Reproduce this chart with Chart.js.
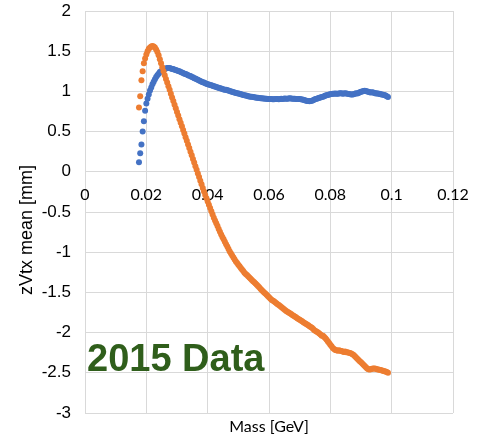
<!DOCTYPE html>
<html>
<head>
<meta charset="utf-8">
<title>zVtx mean vs Mass</title>
<script src="https://cdn.jsdelivr.net/npm/chart.js@4.4.1/dist/chart.umd.min.js"></script>
<style>
  html, body { margin: 0; padding: 0; background: #fff; }
  #chart { display: block; }
</style>
</head>
<body>
<canvas id="chart" width="477" height="436"></canvas>
<script>
// mass bins [GeV]
const mass = [
  0.0176, 0.0180, 0.0184, 0.0188, 0.0192, 0.0196, 0.0200, 0.0204, 0.0208, 0.0212,
  0.0216, 0.0220, 0.0224, 0.0228, 0.0232, 0.0236, 0.0240, 0.0244, 0.0248, 0.0252,
  0.0256, 0.0260, 0.0264, 0.0268, 0.0272, 0.0276, 0.0280, 0.0284, 0.0288, 0.0292,
  0.0296, 0.0300, 0.0304, 0.0308, 0.0312, 0.0316, 0.0320, 0.0324, 0.0328, 0.0332,
  0.0336, 0.0340, 0.0344, 0.0348, 0.0352, 0.0356, 0.0360, 0.0364, 0.0368, 0.0372,
  0.0376, 0.0380, 0.0384, 0.0388, 0.0392, 0.0396, 0.0400, 0.0404, 0.0408, 0.0412,
  0.0416, 0.0420, 0.0424, 0.0428, 0.0432, 0.0436, 0.0440, 0.0444, 0.0448, 0.0452,
  0.0456, 0.0460, 0.0464, 0.0468, 0.0472, 0.0476, 0.0480, 0.0484, 0.0488, 0.0492,
  0.0496, 0.0500, 0.0504, 0.0508, 0.0512, 0.0516, 0.0520, 0.0524, 0.0528, 0.0532,
  0.0536, 0.0540, 0.0544, 0.0548, 0.0552, 0.0556, 0.0560, 0.0564, 0.0568, 0.0572,
  0.0576, 0.0580, 0.0584, 0.0588, 0.0592, 0.0596, 0.0600, 0.0604, 0.0608, 0.0612,
  0.0616, 0.0620, 0.0624, 0.0628, 0.0632, 0.0636, 0.0640, 0.0644, 0.0648, 0.0652,
  0.0656, 0.0660, 0.0664, 0.0668, 0.0672, 0.0676, 0.0680, 0.0684, 0.0688, 0.0692,
  0.0696, 0.0700, 0.0704, 0.0708, 0.0712, 0.0716, 0.0720, 0.0724, 0.0728, 0.0732,
  0.0736, 0.0740, 0.0744, 0.0748, 0.0752, 0.0756, 0.0760, 0.0764, 0.0768, 0.0772,
  0.0776, 0.0780, 0.0784, 0.0788, 0.0792, 0.0796, 0.0800, 0.0804, 0.0808, 0.0812,
  0.0816, 0.0820, 0.0824, 0.0828, 0.0832, 0.0836, 0.0840, 0.0844, 0.0848, 0.0852,
  0.0856, 0.0860, 0.0864, 0.0868, 0.0872, 0.0876, 0.0880, 0.0884, 0.0888, 0.0892,
  0.0896, 0.0900, 0.0904, 0.0908, 0.0912, 0.0916, 0.0920, 0.0924, 0.0928, 0.0932,
  0.0936, 0.0940, 0.0944, 0.0948, 0.0952, 0.0956, 0.0960, 0.0964, 0.0968, 0.0972,
  0.0976, 0.0980, 0.0984, 0.0988
];

// zVtx mean [mm], blue series
const zMeanBlue = [
  0.12, 0.23, 0.34, 0.50, 0.63, 0.76, 0.85, 0.91, 0.96, 1.01,
  1.05, 1.09, 1.12, 1.15, 1.18, 1.20, 1.22, 1.24, 1.25, 1.26,
  1.27, 1.28, 1.285, 1.29, 1.29, 1.29, 1.285, 1.28, 1.28, 1.27,
  1.265, 1.26, 1.255, 1.25, 1.24, 1.235, 1.23, 1.22, 1.215, 1.21,
  1.20, 1.195, 1.19, 1.18, 1.175, 1.165, 1.16, 1.15, 1.145, 1.135,
  1.13, 1.12, 1.115, 1.11, 1.10, 1.095, 1.09, 1.085, 1.08, 1.075,
  1.07, 1.065, 1.06, 1.055, 1.05, 1.045, 1.04, 1.035, 1.03, 1.025,
  1.02, 1.02, 1.015, 1.01, 1.005, 1.00, 0.995, 0.99, 0.985, 0.98,
  0.978, 0.975, 0.97, 0.965, 0.96, 0.955, 0.952, 0.948, 0.945, 0.94,
  0.937, 0.935, 0.932, 0.93, 0.928, 0.925, 0.922, 0.92, 0.918, 0.916,
  0.915, 0.913, 0.912, 0.91, 0.908, 0.906, 0.905, 0.904, 0.904, 0.903,
  0.902, 0.904, 0.906, 0.905, 0.903, 0.906, 0.908, 0.905, 0.91, 0.912,
  0.91, 0.908, 0.912, 0.915, 0.912, 0.909, 0.908, 0.91, 0.906, 0.904,
  0.905, 0.906, 0.902, 0.90, 0.895, 0.89, 0.886, 0.882, 0.88, 0.878,
  0.88, 0.885, 0.89, 0.898, 0.905, 0.91, 0.915, 0.92, 0.925, 0.93,
  0.935, 0.94, 0.948, 0.952, 0.955, 0.96, 0.965, 0.968, 0.97, 0.972,
  0.975, 0.972, 0.97, 0.975, 0.978, 0.976, 0.972, 0.975, 0.978, 0.975,
  0.972, 0.968, 0.965, 0.962, 0.96, 0.965, 0.972, 0.978, 0.975, 0.98,
  0.988, 0.995, 1.00, 1.005, 1.008, 1.005, 1.00, 0.995, 0.99, 0.985,
  0.99, 0.985, 0.98, 0.975, 0.978, 0.972, 0.97, 0.965, 0.96, 0.958,
  0.955, 0.948, 0.94, 0.93
];

// zVtx mean [mm], orange series
const zMeanOrange = [
  0.80, 0.94, 1.14, 1.25, 1.35, 1.41, 1.46, 1.50, 1.53, 1.545,
  1.56, 1.565, 1.56, 1.545, 1.52, 1.49, 1.45, 1.40, 1.35, 1.30,
  1.25, 1.20, 1.155, 1.11, 1.065, 1.02, 0.97, 0.925, 0.88, 0.835,
  0.79, 0.745, 0.70, 0.655, 0.61, 0.565, 0.52, 0.475, 0.43, 0.385,
  0.34, 0.295, 0.25, 0.205, 0.16, 0.115, 0.07, 0.025, -0.02, -0.065,
  -0.11, -0.155, -0.20, -0.245, -0.29, -0.33, -0.37, -0.41, -0.45, -0.49,
  -0.53, -0.57, -0.605, -0.64, -0.675, -0.71, -0.745, -0.78, -0.81, -0.84,
  -0.87, -0.90, -0.93, -0.96, -0.99, -1.015, -1.04, -1.065, -1.09, -1.115,
  -1.135, -1.155, -1.175, -1.195, -1.215, -1.235, -1.255, -1.27, -1.285, -1.30,
  -1.315, -1.33, -1.345, -1.36, -1.375, -1.39, -1.405, -1.42, -1.435, -1.455,
  -1.47, -1.485, -1.50, -1.515, -1.53, -1.545, -1.56, -1.575, -1.59, -1.60,
  -1.61, -1.622, -1.634, -1.646, -1.658, -1.67, -1.682, -1.694, -1.706, -1.718,
  -1.73, -1.74, -1.75, -1.76, -1.77, -1.78, -1.79, -1.80, -1.81, -1.82,
  -1.83, -1.84, -1.85, -1.86, -1.87, -1.88, -1.89, -1.90, -1.91, -1.92,
  -1.93, -1.94, -1.955, -1.97, -1.98, -1.99, -2.00, -2.01, -2.025, -2.04,
  -2.04, -2.055, -2.07, -2.09, -2.11, -2.13, -2.15, -2.17, -2.19, -2.205,
  -2.215, -2.22, -2.225, -2.22, -2.225, -2.23, -2.235, -2.24, -2.235, -2.245,
  -2.245, -2.25, -2.255, -2.26, -2.27, -2.28, -2.295, -2.31, -2.325, -2.34,
  -2.355, -2.37, -2.385, -2.40, -2.415, -2.43, -2.445, -2.455, -2.46, -2.455,
  -2.45, -2.445, -2.445, -2.45, -2.455, -2.46, -2.462, -2.465, -2.47, -2.475,
  -2.48, -2.485, -2.49, -2.50
];

// axis ranges and tick steps
const xRange = [0, 0.12];
const xStep = 0.02;
const yRange = [-3, 2];
const yStep = 0.5;

const BLUE = '#4472C4';
const ORANGE = '#ED7D31';
const GRID = '#D9D9D9';

const toPoints = (ys) => mass.map((m, i) => ({ x: m, y: ys[i] }));
const fmt = (v) => String(Math.round(v * 100) / 100);

// tick labels may hang over the plot edges, don't let them shrink it
const noPadding = (scale) => {
  scale.paddingTop = 0;
  scale.paddingBottom = 0;
  scale.paddingLeft = 0;
  scale.paddingRight = 0;
};

// big green label inside the plot, plus the y axis title
const overlayText = {
  id: 'overlayText',
  afterDatasetsDraw(chart) {
    const { ctx } = chart;
    ctx.save();
    ctx.font = 'bold 38px "Liberation Sans", Arial, sans-serif';
    ctx.fillStyle = '#2F5E1B';
    ctx.textBaseline = 'alphabetic';
    ctx.textAlign = 'left';
    ctx.fillText('2015 Data', 87, 371);

    ctx.translate(27, 230);
    ctx.rotate(-Math.PI / 2);
    ctx.font = '18px "Liberation Sans", Arial, sans-serif';
    ctx.fillStyle = '#000';
    ctx.textAlign = 'center';
    ctx.textBaseline = 'middle';
    ctx.fillText('zVtx mean [mm]', 0, 0);
    ctx.restore();
  }
};

const ctx = document.getElementById('chart').getContext('2d');
new Chart(ctx, {
  type: 'scatter',
  data: {
    datasets: [
      {
        label: 'zVtx mean',
        data: toPoints(zMeanBlue),
        backgroundColor: BLUE,
        borderWidth: 0,
        pointRadius: 3,
        order: 2
      },
      {
        label: 'zVtx mean',
        data: toPoints(zMeanOrange),
        backgroundColor: ORANGE,
        borderWidth: 0,
        pointRadius: 3,
        order: 1
      }
    ]
  },
  options: {
    responsive: false,
    animation: false,
    layout: { padding: { top: 11, right: 24, left: 0, bottom: 0 } },
    plugins: {
      legend: { display: false },
      tooltip: { enabled: false }
    },
    scales: {
      x: {
        type: 'linear',
        min: xRange[0],
        max: xRange[1],
        ticks: { display: false, stepSize: xStep },
        grid: { color: GRID, lineWidth: 1, drawTicks: false },
        border: { display: false },
        title: {
          display: true,
          text: 'Mass [GeV]',
          color: '#000',
          font: { family: 'Lato', size: 16 },
          padding: { top: 4, bottom: 0 }
        },
        afterFit(scale) {
          scale.height = 23;
          noPadding(scale);
        }
      },
      xZero: {
        type: 'linear',
        axis: 'x',
        position: { y: 0 },
        min: xRange[0],
        max: xRange[1],
        ticks: {
          stepSize: xStep,
          color: '#000',
          padding: 13,
          font: { family: 'Lato', size: 16 },
          maxRotation: 0,
          callback: (v) => fmt(v)
        },
        grid: { display: false, drawTicks: false },
        border: { display: false },
        afterFit: noPadding
      },
      y: {
        type: 'linear',
        min: yRange[0],
        max: yRange[1],
        ticks: {
          stepSize: yStep,
          color: '#000',
          padding: 14,
          font: { family: 'Liberation Sans', size: 17 },
          callback: (v) => fmt(v)
        },
        grid: { color: GRID, lineWidth: 1, drawTicks: false },
        border: { display: false },
        afterFit(scale) {
          scale.width = 85;
          noPadding(scale);
        }
      }
    }
  },
  plugins: [overlayText]
});
</script>
</body>
</html>
